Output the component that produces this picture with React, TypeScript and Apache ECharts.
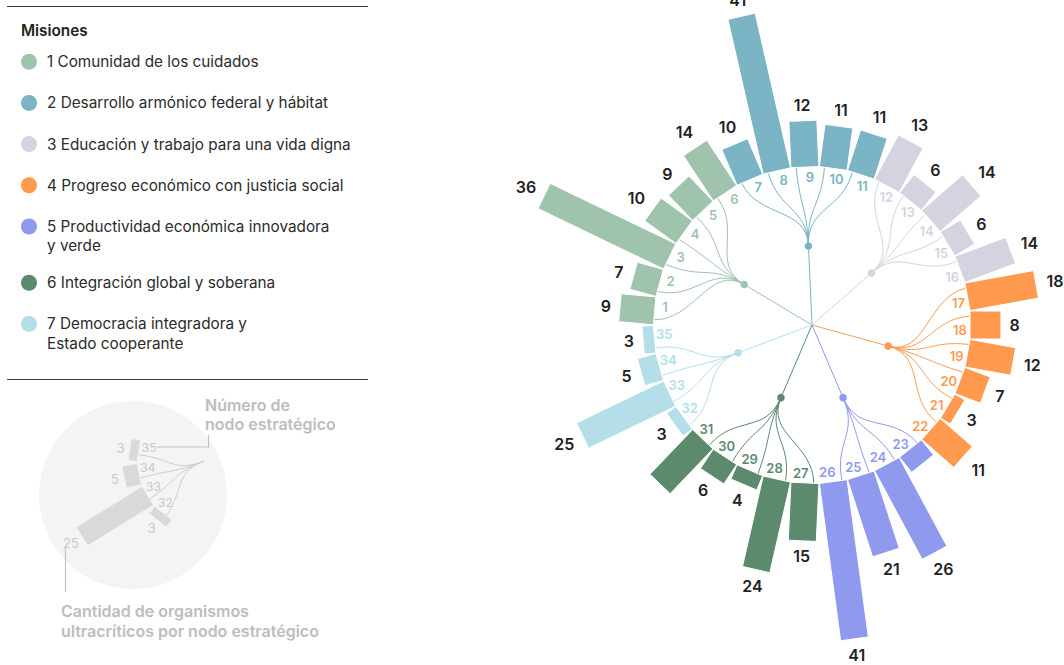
import React, { useEffect, useRef } from "react";
import * as echarts from "echarts";

// ---------------- DATA ----------------
const legendTitle = "Misiones";
const missionNames = [
  "1 Comunidad de los cuidados",
  "2 Desarrollo armónico federal y hábitat",
  "3 Educación y trabajo para una vida digna",
  "4 Progreso económico con justicia social",
  "5 Productividad económica innovadora\ny verde",
  "6 Integración global y soberana",
  "7 Democracia integradora y\nEstado cooperante",
];
const missionColors = ["#a0c3ae", "#7bb4c4", "#d4d4e1", "#ff9a4f", "#8f99ee", "#5c8a6d", "#b4dfe8"];

const nodeIds = [
  1, 2, 3, 4, 5, 6, 7, 8, 9, 10, 11, 12, 13, 14, 15, 16, 17, 18,
  19, 20, 21, 22, 23, 24, 25, 26, 27, 28, 29, 30, 31, 32, 33, 34, 35,
];
const nodeMission = [
  1, 1, 1, 1, 1, 1, 2, 2, 2, 2, 2, 3, 3, 3, 3, 3, 4, 4,
  4, 4, 4, 4, 5, 5, 5, 5, 6, 6, 6, 6, 6, 7, 7, 7, 7,
];
const organismCounts = [
  9, 7, 36, 10, 9, 14, 10, 41, 12, 11, 11, 13, 6, 14, 6, 14, 18, 8,
  12, 7, 3, 11, 5, 26, 21, 41, 15, 24, 4, 6, 16, 3, 25, 5, 3,
];
const unlabeledNodes = [23, 31];

// key (explanatory mini diagram) uses mission 7 nodes
const keyNodes = [32, 33, 34, 35];
const keyTopText = "Número de\nnodo estratégico";
const keyBottomText = "Cantidad de organismos\nultracríticos por nodo estratégico";

// ---------------- LAYOUT ----------------
const CENTER = [812, 325];
const PX_PER_UNIT = 3.87;
const INNER_PX = 158;
const R_MIN = -INNER_PX / PX_PER_UNIT;
const R_MAX = 50;
const GROUP_R = R_MIN / 2;
const MID_R = R_MIN / 4;
const BAR_W = 28;
const LINK_SHIFT = -3.2;
const NODE_LABEL_R = R_MIN + 148 / PX_PER_UNIT;
const NODE_LABEL_SHIFT = 1.8;

const KEY_CENTER = [204, 461];
const KEY_PX = 3.1;
const KEY_INNER = 66;
const KEY_R_MIN = -KEY_INNER / KEY_PX;
const KEY_R_MAX = 40;
const KEY_START = 218;
const KEY_STEP = 20.3;
const KEY_BAR_W = 22;
const KEY_LINK_SHIFT = -3.5;
const KEY_LABEL_R = KEY_R_MIN + 56.5 / KEY_PX;
const KEY_LABEL_SHIFT = 5;

const FONT = "Inter, 'Noto Sans', sans-serif";
const N = nodeIds.length;
const nodeAngle = (id: number) => -90 + ((id - 0.5) * 360) / N;
const groupAngle = (g: number) => {
  const ids = nodeIds.filter((_, i) => nodeMission[i] === g);
  return ids.reduce((s, id) => s + nodeAngle(id), 0) / ids.length;
};
const keyAngle = (id: number) => KEY_START + (id - keyNodes[0]) * KEY_STEP;
const keyGroupAngle = () => keyNodes.reduce((s, id) => s + keyAngle(id), 0) / keyNodes.length;

function barGeom(api: any, rMin: number, v: number, a: number, w: number) {
  const c = api.coord([rMin, a]);
  const p0 = api.coord([0, a]);
  const p1 = api.coord([v, a]);
  const dx = p0[0] - c[0];
  const dy = p0[1] - c[1];
  const L = Math.hypot(dx, dy) || 1;
  const ux = dx / L;
  const uy = dy / L;
  const nx = (-uy * w) / 2;
  const ny = (ux * w) / 2;
  return {
    pts: [
      [p0[0] + nx, p0[1] + ny],
      [p1[0] + nx, p1[1] + ny],
      [p1[0] - nx, p1[1] - ny],
      [p0[0] - nx, p0[1] - ny],
    ],
    ux,
    uy,
    p1,
  };
}

function textEl(text: string, x: number, y: number, fill: string, size: number, weight: any, extra: any = {}) {
  return {
    type: "text",
    x,
    y,
    style: {
      text,
      fill,
      fontSize: size,
      fontWeight: weight,
      fontFamily: FONT,
      align: "center",
      verticalAlign: "middle",
      textAlign: "center",
      textVerticalAlign: "middle",
      ...extra,
    },
  };
}

function bezier(s: number[], c1: number[], c2: number[], e: number[], stroke: string) {
  return {
    type: "bezierCurve",
    shape: { x1: s[0], y1: s[1], cpx1: c1[0], cpy1: c1[1], cpx2: c2[0], cpy2: c2[1], x2: e[0], y2: e[1] },
    style: { stroke, fill: null, lineWidth: 1 },
  };
}

export default function App() {
  const ref = useRef<HTMLDivElement>(null);
  useEffect(() => {
    if (!ref.current) return;
    const chart = echarts.init(ref.current, null, { renderer: "svg" });

    const groups = missionNames.map((_, i) => i + 1);

    // legend graphic
    const legendEls: any[] = [];
    legendEls.push({ type: "line", shape: { x1: 7, y1: 6.5, x2: 368, y2: 6.5 }, style: { stroke: "#3a3a3a", lineWidth: 1 } });
    legendEls.push({
      type: "text", x: 21, y: 30,
      style: { text: legendTitle, fill: "#222", fontSize: 15.3, fontWeight: 600, fontFamily: FONT, align: "left", verticalAlign: "middle", textAlign: "left", textVerticalAlign: "middle" },
    });
    let extra = 0;
    missionNames.forEach((name, i) => {
      const y = 61.7 + 41.2 * i + 15 * extra;
      legendEls.push({ type: "circle", shape: { cx: 29, cy: y, r: 8 }, style: { fill: missionColors[i] } });
      legendEls.push({
        type: "text", x: 47, y: y - 9.65,
        style: { text: name, fill: "#2b2b2b", fontSize: 15.3, fontFamily: FONT, lineHeight: 19.3, align: "left", verticalAlign: "top", textAlign: "left", textVerticalAlign: "top" },
      });
      extra += name.split("\n").length - 1;
    });
    legendEls.push({ type: "line", shape: { x1: 7, y1: 379.5, x2: 368, y2: 379.5 }, style: { stroke: "#3a3a3a", lineWidth: 1 } });

    // key background and annotations
    const keyEls: any[] = [
      { type: "circle", shape: { cx: 133, cy: 495, r: 94 }, style: { fill: "#f4f4f4" }, z: -1 },
      { type: "polyline", shape: { points: [[157, 447], [208.5, 447], [208.5, 435]] }, style: { stroke: "#c2c2c2", lineWidth: 1.2, fill: null } },
      { type: "line", shape: { x1: 65.5, y1: 548, x2: 65.5, y2: 592 }, style: { stroke: "#c2c2c2", lineWidth: 1.2 } },
      {
        type: "text", x: 205, y: 395.5,
        style: { text: keyTopText, fill: "#bdbdbd", fontSize: 16, fontWeight: 600, fontFamily: FONT, lineHeight: 19.3, align: "left", verticalAlign: "top", textAlign: "left", textVerticalAlign: "top" },
      },
      {
        type: "text", x: 61, y: 601,
        style: { text: keyBottomText, fill: "#bdbdbd", fontSize: 16, fontWeight: 600, fontFamily: FONT, lineHeight: 20, align: "left", verticalAlign: "top", textAlign: "left", textVerticalAlign: "top" },
      },
    ];

    const option: any = {
      animation: false,
      textStyle: { fontFamily: FONT },
      polar: [
        { center: CENTER, radius: [0, PX_PER_UNIT * (R_MAX - R_MIN)] },
        { center: KEY_CENTER, radius: [0, KEY_PX * (KEY_R_MAX - KEY_R_MIN)] },
      ],
      angleAxis: [
        { polarIndex: 0, type: "value", min: 0, max: 360, startAngle: 90, clockwise: true, show: false },
        { polarIndex: 1, type: "value", min: 0, max: 360, startAngle: 90, clockwise: true, show: false },
      ],
      radiusAxis: [
        { polarIndex: 0, type: "value", min: R_MIN, max: R_MAX, show: false },
        { polarIndex: 1, type: "value", min: KEY_R_MIN, max: KEY_R_MAX, show: false },
      ],
      graphic: { elements: [...keyEls, ...legendEls] },
      series: [
        // root -> mission lines
        {
          type: "custom", coordinateSystem: "polar", polarIndex: 0, silent: true,
          data: groups.map((g) => [g, g]),
          renderItem: (_p: any, api: any) => {
            const g = api.value(0);
            const a = groupAngle(g);
            const c = api.coord([R_MIN, a]);
            const e = api.coord([GROUP_R, a]);
            return { type: "line", shape: { x1: c[0], y1: c[1], x2: e[0], y2: e[1] }, style: { stroke: missionColors[g - 1], lineWidth: 1 } };
          },
        },
        // mission -> node links
        {
          type: "custom", coordinateSystem: "polar", polarIndex: 0, silent: true,
          data: nodeIds.map((id, i) => [id, nodeMission[i]]),
          renderItem: (_p: any, api: any) => {
            const id = api.value(0);
            const g = api.value(1);
            const ga = groupAngle(g);
            const la = nodeAngle(id) + LINK_SHIFT;
            return bezier(api.coord([GROUP_R, ga]), api.coord([MID_R, ga]), api.coord([MID_R, la]), api.coord([0, la]), missionColors[g - 1]);
          },
        },
        // mission dots
        {
          type: "custom", coordinateSystem: "polar", polarIndex: 0, silent: true,
          data: groups.map((g) => [g, g]),
          renderItem: (_p: any, api: any) => {
            const g = api.value(0);
            const p = api.coord([GROUP_R, groupAngle(g)]);
            return { type: "circle", shape: { cx: p[0], cy: p[1], r: 3.8 }, style: { fill: missionColors[g - 1] } };
          },
        },
        // bars + labels
        {
          type: "custom", coordinateSystem: "polar", polarIndex: 0, silent: true,
          data: nodeIds.map((id, i) => [id, organismCounts[i], nodeMission[i]]),
          renderItem: (_p: any, api: any) => {
            const id = api.value(0);
            const v = api.value(1);
            const g = api.value(2);
            const color = missionColors[g - 1];
            const a = nodeAngle(id);
            const b = barGeom(api, R_MIN, v, a, BAR_W);
            const children: any[] = [
              { type: "polygon", shape: { points: b.pts }, style: { fill: color, stroke: "#ffffff", lineWidth: 1 } },
            ];
            const nl = api.coord([NODE_LABEL_R, a + NODE_LABEL_SHIFT]);
            children.push(textEl(String(id), nl[0], nl[1], color, 13, 600));
            if (!unlabeledNodes.includes(id)) {
              const t = String(v);
              const tw = t.length * 9.5;
              const off = 9 + (Math.abs(b.ux) * tw) / 2 + Math.abs(b.uy) * 6;
              children.push(textEl(t, b.p1[0] + b.ux * off, b.p1[1] + b.uy * off, "#222222", 16, 600));
            }
            return { type: "group", children };
          },
        },
        // key mini diagram
        {
          type: "custom", coordinateSystem: "polar", polarIndex: 1, silent: true,
          data: keyNodes.map((id) => [id, organismCounts[id - 1]]),
          renderItem: (_p: any, api: any) => {
            const id = api.value(0);
            const v = api.value(1);
            const a = keyAngle(id);
            const ga = keyGroupAngle();
            const la = a + KEY_LINK_SHIFT;
            const mid = KEY_R_MIN / 2;
            const children: any[] = [
              bezier(api.coord([KEY_R_MIN, ga]), api.coord([mid, ga]), api.coord([mid, la]), api.coord([0, la]), "#cdcdcd"),
            ];
            const b = barGeom(api, KEY_R_MIN, v, a, KEY_BAR_W);
            children.push({ type: "polygon", shape: { points: b.pts }, style: { fill: "#d9d9d9", stroke: "#f4f4f4", lineWidth: 1 } });
            const nl = api.coord([KEY_LABEL_R, a + KEY_LABEL_SHIFT]);
            children.push(textEl(String(id), nl[0], nl[1], "#c8c8c8", 12, 400));
            const t = String(v);
            const tw = t.length * 7.5;
            const off = 5 + (Math.abs(b.ux) * tw) / 2 + Math.abs(b.uy) * 3;
            children.push(textEl(t, b.p1[0] + b.ux * off, b.p1[1] + b.uy * off, "#c8c8c8", 13, 400));
            return { type: "group", children };
          },
        },
      ],
    };
    chart.setOption(option);
    return () => chart.dispose();
  }, []);
  return <div ref={ref} style={{ position: "fixed", left: 0, top: 0, width: 1064, height: 665, background: "#fff" }} />;
}
